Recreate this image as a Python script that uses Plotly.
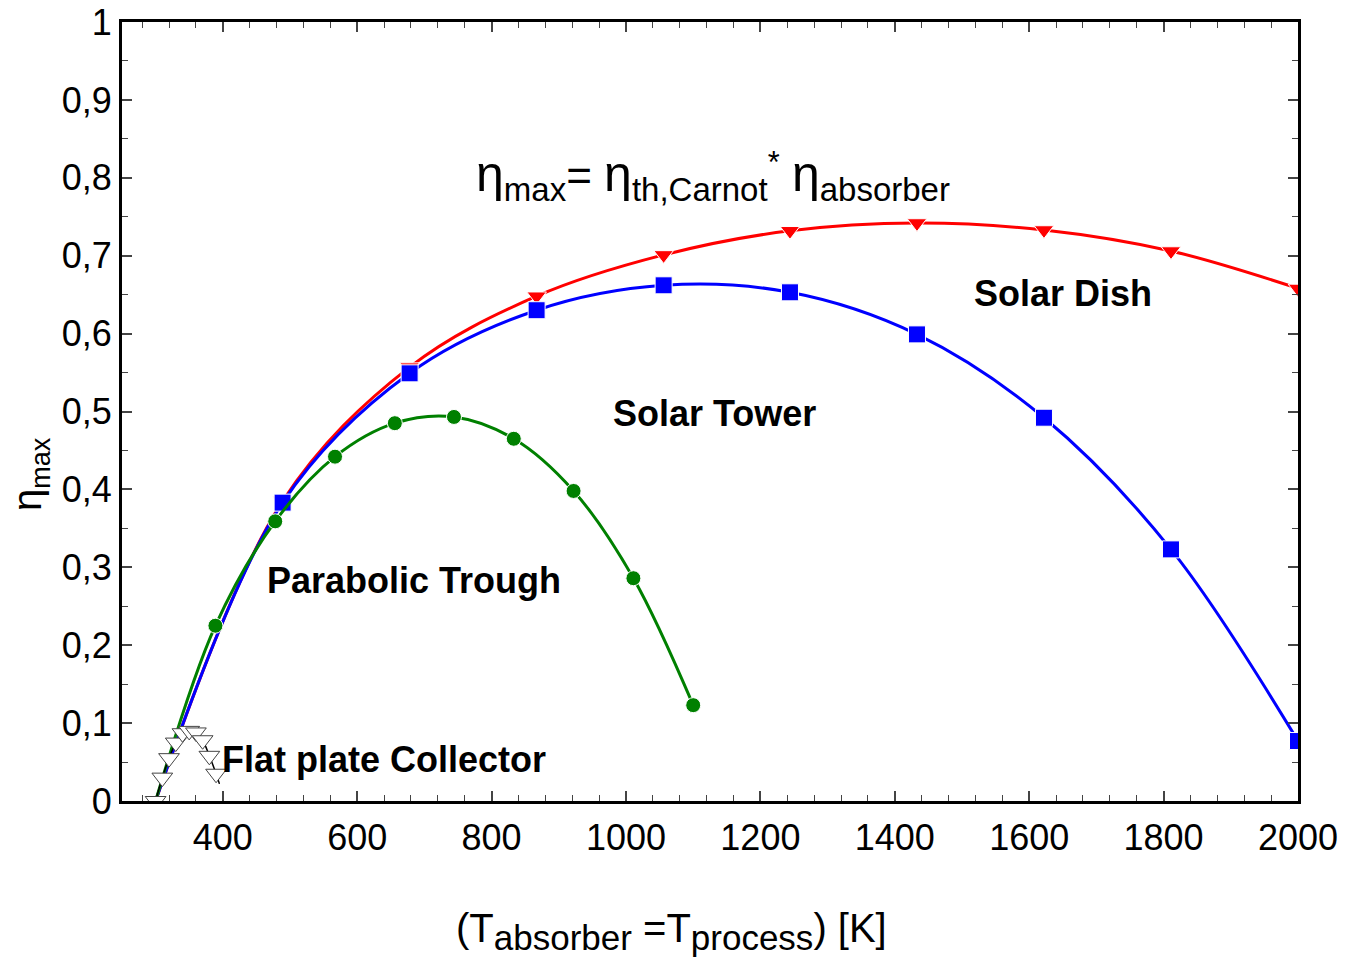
import plotly.graph_objects as go

# ---- data ----
T_conc = [300, 489, 678, 867, 1056, 1244, 1433, 1622, 1811, 2000]
eta_dish = [0.0, 0.385, 0.557, 0.648, 0.701, 0.732, 0.742, 0.733, 0.706, 0.658]
eta_tower = [0.0, 0.383, 0.549, 0.630, 0.662, 0.653, 0.599, 0.492, 0.323, 0.077]

T_trough = [300, 389, 478, 567, 656, 744, 833, 922, 1011, 1100]
eta_trough = [0.0, 0.225, 0.359, 0.442, 0.485, 0.493, 0.465, 0.398, 0.286, 0.123]

T_flat = [300, 310, 320, 330, 340, 350, 360, 370, 380, 390, 395]
eta_flat = [0.0, 0.030, 0.055, 0.075, 0.087, 0.090, 0.088, 0.078, 0.058, 0.035, 0.022]

x_ticks = [400, 600, 800, 1000, 1200, 1400, 1600, 1800, 2000]
y_ticks = [0, 0.1, 0.2, 0.3, 0.4, 0.5, 0.6, 0.7, 0.8, 0.9, 1.0]
y_tick_text = ["0", "0,1", "0,2", "0,3", "0,4", "0,5", "0,6", "0,7", "0,8", "0,9", "1"]

FONT = "Liberation Sans, Arial, sans-serif"

fig = go.Figure()

def add_series(x, y, color, symbol, msize, lw):
    fig.add_trace(go.Scatter(x=x, y=y, mode="lines",
                             line=dict(color=color, width=lw, shape="spline"),
                             showlegend=False, hoverinfo="skip"))
    fig.add_trace(go.Scatter(x=x[1:], y=y[1:], mode="markers",
                             marker=dict(color=color, symbol=symbol, size=msize,
                                         line=dict(color="white", width=1)),
                             showlegend=False))

add_series(T_conc, eta_dish, "#ff0000", "triangle-down", 17, 3)
add_series(T_conc, eta_tower, "#0000ff", "square", 17, 3)
add_series(T_trough, eta_trough, "#008000", "circle", 15, 3)

fig.add_trace(go.Scatter(x=T_flat, y=eta_flat, mode="lines",
                         line=dict(color="black", width=1.5, shape="spline"),
                         showlegend=False, hoverinfo="skip"))
fig.add_trace(go.Scatter(x=T_flat[:-1], y=eta_flat[:-1], mode="markers",
                         marker=dict(symbol="triangle-down", size=18,
                                     color="white", line=dict(width=1, color="#444444")),
                         showlegend=False))

ann_font = dict(family=FONT, size=36, color="black")
for txt, x, y in [("<b>Solar Dish</b>", 1062, 0.652),
                  ("<b>Solar Tower</b>", 714, 0.497),
                  ("<b>Parabolic Trough</b>", 413, 0.283),
                  ("<b>Flat plate Collector</b>", 383, 0.053)]:
    fig.add_annotation(x=(x - 222) / 0.672 + 400, y=y, text=txt, showarrow=False,
                       font=ann_font, xanchor="center", yanchor="middle")

S = "<span style='font-size:33px'>{}</span>"
E = "<span style='font-size:50px'>η</span>"
fig.add_annotation(
    x=(712 - 222) / 0.672 + 400, y=0.802,
    text=(E + "<sub>" + S.format("max") + "</sub>= "
          + E + "<sub>" + S.format("th,Carnot") + "</sub>"
          + "<sup>*</sup> "
          + E + "<sub>" + S.format("absorber") + "</sub>"),
    showarrow=False, font=dict(family=FONT, size=44, color="black"),
    xanchor="center", yanchor="middle")

fig.add_annotation(
    xref="paper", yref="paper", x=(671 - 122) / 1176, y=-0.168,
    text=("(T<sub><span style='font-size:35px'>absorber</span></sub> ="
          "T<sub><span style='font-size:35px'>process</span></sub>) [K]"),
    showarrow=False, font=dict(family=FONT, size=40, color="black"),
    xanchor="center", yanchor="middle")

fig.add_annotation(
    xref="paper", yref="paper", x=-0.078, y=0.42,
    text="η<sub><span style='font-size:27px'>max</span></sub>", textangle=-90,
    showarrow=False, font=dict(family=FONT, size=40, color="black"),
    xanchor="center", yanchor="middle")

axis_common = dict(showline=True, linecolor="black", linewidth=3, mirror="allticks",
                   ticks="inside", ticklen=10, tickwidth=1.5, tickcolor="#444444",
                   showgrid=False, zeroline=False,
                   tickfont=dict(family=FONT, size=36, color="black"))

fig.update_xaxes(range=[250, 2000], tickvals=x_ticks, ticktext=[str(v) for v in x_ticks],
                 ticklabelstandoff=3,
                 minor=dict(tick0=0, dtick=40, ticks="inside", ticklen=6, tickwidth=1,
                            tickcolor="#444444", showgrid=False),
                 **axis_common)
fig.update_yaxes(range=[0, 1], tickvals=y_ticks, ticktext=y_tick_text,
                 ticklabelstandoff=0,
                 minor=dict(tick0=0, dtick=0.05, ticks="inside", ticklen=6, tickwidth=1,
                            tickcolor="#444444", showgrid=False),
                 **axis_common)

fig.update_layout(width=1345, height=964,
                  margin=dict(l=122, r=47, t=22, b=163, autoexpand=False),
                  plot_bgcolor="white", paper_bgcolor="white",
                  font=dict(family=FONT, color="black"))

fig.write_html("out.html")
